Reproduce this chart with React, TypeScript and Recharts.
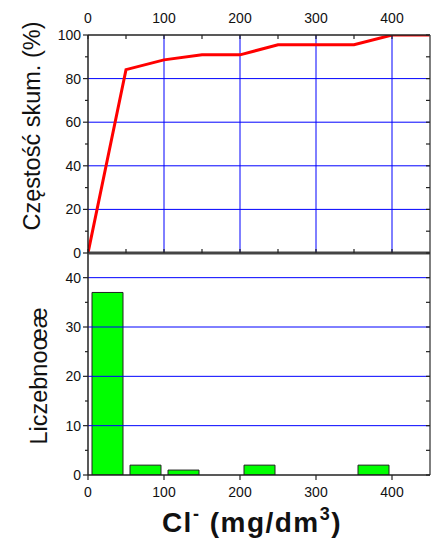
import { ComposedChart, LineChart, Line, Bar, XAxis, YAxis, ReferenceLine } from 'recharts';

// ── Data ──────────────────────────────────────────────────────────────────

const CUM_X = [0, 50, 100, 150, 200, 250, 300, 350, 400, 450];
const CUM_PCT = [0, 84.1, 88.6, 90.9, 90.9, 95.5, 95.5, 95.5, 100, 100];

const BIN_MID = [25, 75, 125, 225, 375];
const BIN_COUNT = [37, 2, 1, 2, 2];

const X_TICKS = [0, 50, 100, 150, 200, 250, 300, 350, 400];
const X_LABELS = [0, 100, 200, 300, 400];
const PCT_TICKS = [0, 10, 20, 30, 40, 50, 60, 70, 80, 90, 100];
const CNT_TICKS = [0, 5, 10, 15, 20, 25, 30, 35, 40];
const GRID_X = [100, 200, 300, 400];
const GRID_PCT = [20, 40, 60, 80];
const GRID_CNT = [10, 20, 30, 40];

const cumData = CUM_X.map((x, i) => ({ x, pct: CUM_PCT[i] }));
const binData = BIN_MID.map((x, i) => ({ x, count: BIN_COUNT[i] }));

// ── Layout / style ────────────────────────────────────────────────────────

const FONT = '"Liberation Sans", Arial, sans-serif';
const AXIS = '#222';
const GRID = '#0000ff';
const W = 436;
const LEFT = 88;     // y-axis width
const RIGHT = 6;     // space right of the frame
const TOP = 35;      // space above the top panel's frame
const RIGHT_X = W - RIGHT;

const axisBase = {
  tickLine: false as const, tickSize: 0, tickMargin: 0,
  interval: 0 as const, allowDataOverflow: true,
};

// left axis: outward ticks + labels on majors, plus the mirrored inward tick on the right frame
const leftTick = (every: number) => ({ x, y, payload }: any) => {
  const major = payload.value % every === 0;
  return (
    <g>
      <line x1={x} x2={x - (major ? 5 : 3)} y1={y} y2={y} stroke={AXIS} strokeWidth={1.2} />
      <line x1={RIGHT_X} x2={RIGHT_X - 4} y1={y} y2={y} stroke={AXIS} strokeWidth={1.2} />
      {major && (
        <text x={x - 7} y={y + 5} textAnchor="end" fontSize={14} fontFamily={FONT} fill="#111">
          {payload.value}
        </text>
      )}
    </g>
  );
};

// top panel x-axis: inward ticks on the separator and on the top frame, labels above the frame
const sepTick = ({ x, y, payload }: any) => (
  <g>
    <line x1={x} x2={x} y1={y} y2={y - 4} stroke={AXIS} strokeWidth={1.2} />
    <line x1={x} x2={x} y1={TOP} y2={TOP + 4} stroke={AXIS} strokeWidth={1.2} />
    {payload.value % 100 === 0 && (
      <text x={x} y={TOP - 12} textAnchor="middle" fontSize={14} fontFamily={FONT} fill="#111">
        {payload.value}
      </text>
    )}
  </g>
);

// bottom axis: outward ticks with labels
const bottomTick = ({ x, y, payload }: any) => (
  <g>
    <line x1={x} x2={x} y1={y} y2={y + 5} stroke={AXIS} strokeWidth={1.2} />
    <text x={x} y={y + 22} textAnchor="middle" fontSize={14} fontFamily={FONT} fill="#111">
      {payload.value}
    </text>
  </g>
);

// ── Panels ────────────────────────────────────────────────────────────────

function CumulativePanel() {
  return (
    <LineChart width={W} height={262} data={cumData} margin={{ top: TOP, right: RIGHT, left: 0, bottom: 7 }}>
      <XAxis
        dataKey="x" type="number" domain={[0, 450]} ticks={X_TICKS} height={2}
        {...axisBase} tick={sepTick} axisLine={{ stroke: '#444', strokeWidth: 3 }}
      />
      <YAxis
        type="number" domain={[0, 100]} ticks={PCT_TICKS} width={LEFT}
        {...axisBase} tick={leftTick(20)} axisLine={{ stroke: AXIS, strokeWidth: 1.5 }}
      />
      {GRID_X.map((v) => <ReferenceLine key={'gx' + v} x={v} stroke={GRID} strokeWidth={1} />)}
      {GRID_PCT.map((v) => <ReferenceLine key={'gy' + v} y={v} stroke={GRID} strokeWidth={1} />)}
      <Line
        type="linear" dataKey="pct" stroke="#ff0000" strokeWidth={3}
        dot={false} isAnimationActive={false}
      />
      <ReferenceLine y={100} stroke={AXIS} strokeWidth={1.5} />
      <ReferenceLine x={450} stroke="#555" strokeWidth={1.5} />
    </LineChart>
  );
}

function HistogramPanel() {
  return (
    <ComposedChart width={W} height={291} data={binData} margin={{ top: 0, right: RIGHT, left: 0, bottom: 0 }}>
      <XAxis
        dataKey="x" type="number" domain={[0, 450]} ticks={X_LABELS} height={69}
        {...axisBase} tick={bottomTick} axisLine={{ stroke: AXIS, strokeWidth: 1.5 }}
      />
      <YAxis
        type="number" domain={[0, 45]} ticks={CNT_TICKS} width={LEFT}
        {...axisBase} tick={leftTick(10)} axisLine={{ stroke: AXIS, strokeWidth: 1.5 }}
      />
      {GRID_CNT.map((v) => <ReferenceLine key={'gy' + v} y={v} stroke={GRID} strokeWidth={1} />)}
      <Bar
        dataKey="count" barSize={31} fill="#00ff00" stroke="#222" strokeWidth={1}
        isAnimationActive={false}
      />
      <ReferenceLine x={450} stroke="#555" strokeWidth={1.5} />
    </ComposedChart>
  );
}

export default function App() {
  return (
    <div style={{ position: 'absolute', left: 0, top: 0, width: W, height: 544, background: '#fff' }}>
      <div style={{ position: 'absolute', left: 0, top: 253 }}>
        <HistogramPanel />
      </div>
      <div style={{ position: 'absolute', left: 0, top: 0 }}>
        <CumulativePanel />
      </div>
      <svg width={W} height={544} style={{ position: 'absolute', left: 0, top: 0, pointerEvents: 'none' }}>
        <text
          transform="rotate(-90, 40, 126)" x={40} y={126} textAnchor="middle"
          fontSize={23.5} fontFamily={FONT} fill="#111"
        >
          Częstość skum. (%)
        </text>
        <text
          transform="rotate(-90, 47, 376)" x={47} y={376} textAnchor="middle"
          fontSize={23.5} fontFamily={FONT} fill="#111"
        >
          Liczebnoœæ
        </text>
        <text
          x={252} y={532} textAnchor="middle" fontSize={28} fontWeight="bold" letterSpacing={1.5}
          fontFamily={FONT} fill="#111"
        >
          Cl<tspan dy={-12} fontSize={18}>-</tspan>
          <tspan dy={12}> (mg/dm</tspan>
          <tspan dy={-12} fontSize={18}>3</tspan>
          <tspan dy={12}>)</tspan>
        </text>
      </svg>
    </div>
  );
}
